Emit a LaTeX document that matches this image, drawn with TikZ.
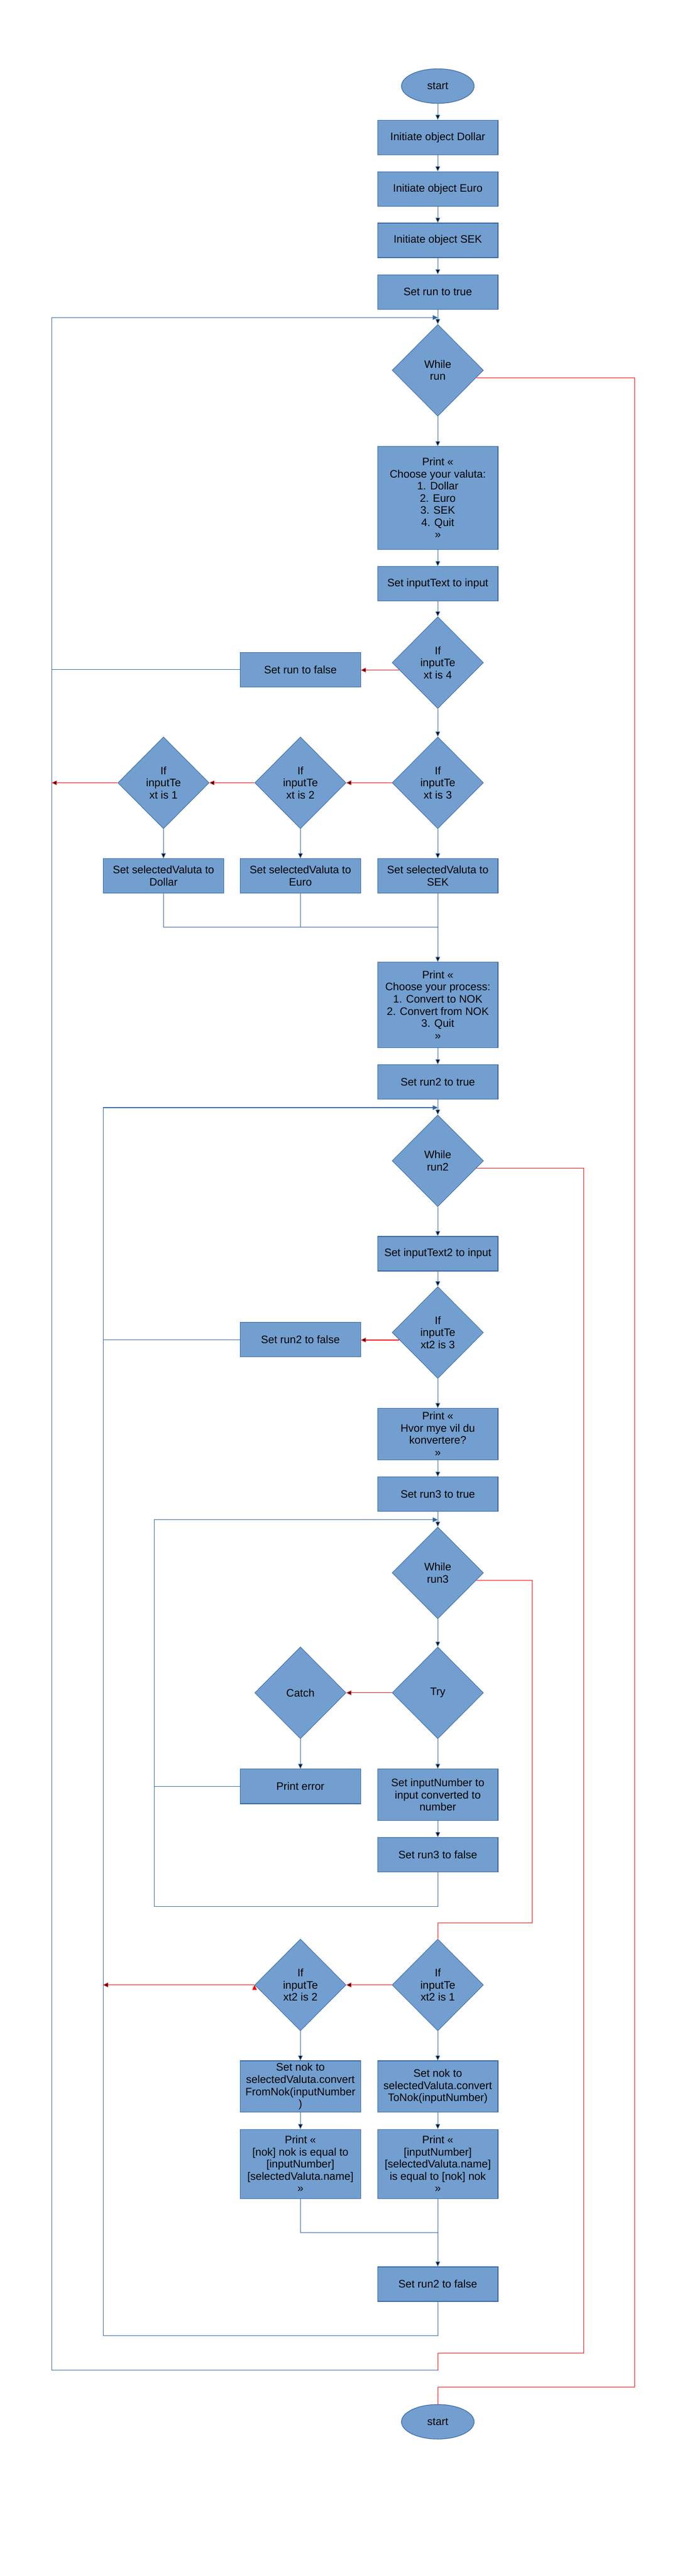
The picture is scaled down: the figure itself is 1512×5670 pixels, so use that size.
\documentclass[tikz,border=0pt]{standalone}
\usepackage{fontspec}
\setmainfont{Liberation Sans}
\usepackage{tikz}
\usetikzlibrary{shapes.geometric, arrows.meta}

\definecolor{boxfill}{HTML}{729FCF}
\definecolor{boxline}{HTML}{3465A4}

\begin{document}
\begin{tikzpicture}[x=1pt,y=-1pt,
        >={Triangle[length=11pt,width=10pt]},
        every node/.style={font=\fontsize{23.8pt}{26.7pt}\selectfont, align=center, inner sep=0pt},
        box/.style={rectangle, draw=boxline, fill=boxfill, line width=1.3pt, minimum width=265pt, minimum height=76pt},
        decision/.style={diamond, draw=boxline, fill=boxfill, line width=1pt, minimum width=201pt, minimum height=202pt},
        terminal/.style={ellipse, draw=boxline, fill=boxfill, line width=1.3pt, minimum width=160pt, minimum height=76pt},
        flow/.style={draw=boxline, line width=1.3pt},
        redflow/.style={draw=red, line width=1.3pt}]
        \useasboundingbox (0,0) rectangle (1512,5670);

        \node[terminal] (start) at (964,189.5) {start};
        \node[box] (dol)  at (964,302.5) {Initiate object Dollar};
        \node[box] (eur)  at (964,416)   {Initiate object Euro};
        \node[box] (sek)  at (964,529)   {Initiate object SEK};
        \node[box] (rt)   at (964,642.5) {Set run to true};
        \node[decision] (wr) at (964,815) {While\\run};
        \node[box, minimum height=226pt] (pv) at (964,1096) {Print «\\Choose your valuta:\\1. Dollar\\2. Euro\\3. SEK\\4. Quit\\»};
        \node[box] (it)   at (964,1285)  {Set inputText to input};
        \node[decision] (if4) at (964,1458.5) {If\\inputTe\\xt is 4};
        \node[box] (rf)   at (661.5,1474) {Set run to false};
        \node[decision] (if3) at (964,1723)   {If\\inputTe\\xt is 3};
        \node[decision] (if2) at (661.5,1723) {If\\inputTe\\xt is 2};
        \node[decision] (if1) at (360,1723)   {If\\inputTe\\xt is 1};
        \node[box] (sv3)  at (964,1928)   {Set selectedValuta to\\SEK};
        \node[box] (sv2)  at (661.5,1928) {Set selectedValuta to\\Euro};
        \node[box] (sv1)  at (360,1928)   {Set selectedValuta to\\Dollar};
        \node[box, minimum height=188pt] (pp) at (964,2212) {Print «\\Choose your process:\\1. Convert to NOK\\2. Convert from NOK\\3. Quit\\»};
        \node[box] (r2t)  at (964,2381.5) {Set run2 to true};
        \node[decision] (wr2) at (964,2555) {While\\run2};
        \node[box] (it2)  at (964,2759.5) {Set inputText2 to input};
        \node[decision] (ifb3) at (964,2933) {If\\inputTe\\xt2 is 3};
        \node[box] (r2fa) at (661.5,2948.5) {Set run2 to false};
        \node[box, minimum height=113pt] (ph) at (964,3156.5) {Print «\\Hvor mye vil du\\konvertere?\\»};
        \node[box] (r3t)  at (964,3289)  {Set run3 to true};
        \node[decision] (wr3) at (964,3462) {While\\run3};
        \node[decision] (try)   at (964,3726)   {Try};
        \node[decision] (catch) at (661.5,3726) {Catch};
        \node[box] (pe)   at (661.5,3932) {Print error};
        \node[box, minimum height=113pt] (num) at (964,3950.5) {Set inputNumber to\\input converted to\\number};
        \node[box] (r3f)  at (964,4082.5) {Set run3 to false};
        \node[decision] (ifb1) at (964,4369)   {If\\inputTe\\xt2 is 1};
        \node[decision] (ifb2) at (661.5,4369) {If\\inputTe\\xt2 is 2};
        \node[box, minimum height=113pt] (nok1) at (964,4592.5)   {Set nok to\\selectedValuta.convert\\ToNok(inputNumber)};
        \node[box, minimum height=113pt] (nok2) at (661.5,4592.5) {Set nok to\\selectedValuta.convert\\FromNok(inputNumber\\)};
        \node[box, minimum height=152pt] (pr1) at (964,4763)   {Print «\\{[inputNumber]}\\{[selectedValuta.name]}\\is equal to [nok] nok\\»};
        \node[box, minimum height=152pt] (pr2) at (661.5,4763) {Print «\\{[nok] nok is equal to}\\{[inputNumber]}\\{[selectedValuta.name]}\\»};
        \node[box] (r2fb) at (964,5027.5) {Set run2 to false};
        \node[terminal] (stop) at (964,5330.5) {start};

        \coordinate (l1) at (114,699);
        \coordinate (l2) at (227,2438);
        \coordinate (l3) at (340,3345);
        \coordinate (r1) at (1398,5254);
        \coordinate (r2) at (1285,5179);
        \coordinate (r3) at (1172,4233);
        \coordinate (m1) at (964,2041);
        \coordinate (m2) at (964,4914);
        \coordinate (b2) at (964,5141);
        \coordinate (b3) at (964,4196);
        \coordinate (j2) at (964,5217);

        \path[flow,->] (start) edge (dol)
                  (dol)  edge (eur)
                  (eur)  edge (sek)
                  (sek)  edge (rt)
                  (rt)   edge (wr)
                  (wr)   edge (pv)
                  (pv)   edge (it)
                  (it)   edge (if4)
                  (if4)  edge (if3)
                  (if3)  edge (sv3)
                  (if2)  edge (sv2)
                  (if1)  edge (sv1)
                  (sv3)  edge (pp)
                  (pp)   edge (r2t)
                  (r2t)  edge (wr2)
                  (wr2)  edge (it2)
                  (it2)  edge (ifb3)
                  (ifb3) edge (ph)
                  (ph)   edge (r3t)
                  (r3t)  edge (wr3)
                  (wr3)  edge (try)
                  (try)  edge (num)
                  (catch) edge (pe)
                  (num)  edge (r3f)
                  (ifb1) edge (nok1)
                  (ifb2) edge (nok2)
                  (nok1) edge (pr1)
                  (nok2) edge (pr2)
                  (pr1)  edge (r2fb);

        \draw[flow] (sv1.south) |- (m1);
        \draw[flow] (sv2.south) -- (sv2.south |- m1);
        \draw[flow] (pr2.south) |- (m2);

        \draw[flow] (rf.west) -- (rf.west -| l1);
        \draw[flow,->] (j2) -| (l1) -- (l1 -| wr.north);
        \draw[flow] (r2fa.west) -- (r2fa.west -| l2);
        \draw[flow,->] (r2fb.south) -- (b2) -| (l2) -- (l2 -| wr2.north);
        \draw[flow] (pe.west) -- (pe.west -| l3);
        \draw[flow,->] (r3f.south) -- (b3) -| (l3) -- (l3 -| wr3.north);

        \draw[redflow] (wr.-11) -- (wr.-11 -| r1) -- (r1) -| (stop.north);
        \draw[redflow] (wr2.-11) -- (wr2.-11 -| r2) -- (r2) -| (j2);
        \draw[redflow] (wr3.-11) -- (wr3.-11 -| r3) -- (r3) -| (ifb1.north);

        \path[redflow,->] (if4.191) edge (if4.191 -| rf.east)
                  (if3.west) edge (if2.east)
                  (if2.west) edge (if1.east)
                  (if1.west) edge (if1.west -| l1)
                  (ifb3.191) edge (ifb3.191 -| r2fa.east)
                  (try.west) edge (catch.east)
                  (ifb1.west) edge (ifb2.east)
                  (ifb2.west) edge (ifb2.west -| l2);
\end{tikzpicture}
\end{document}
